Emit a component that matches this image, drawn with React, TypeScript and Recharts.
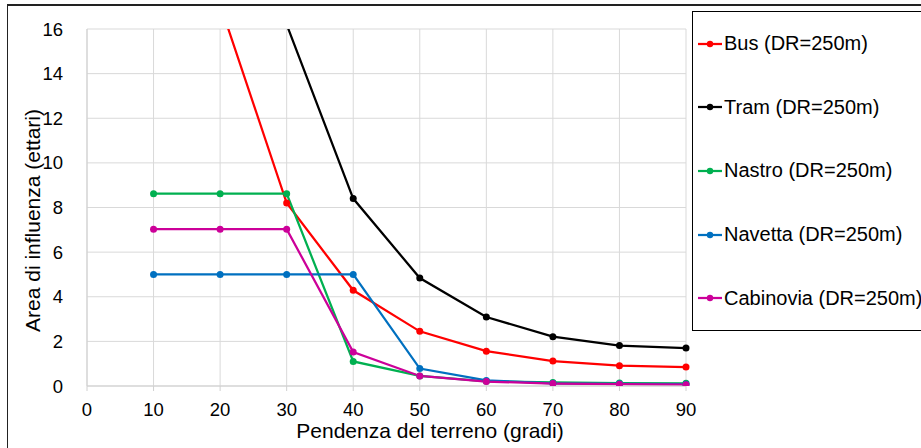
import React from 'react';
import { LineChart, Line, XAxis, YAxis, CartesianGrid, Legend, Label } from 'recharts';

const FONT = '"Liberation Sans", Arial, sans-serif';

const slopes = [10, 20, 30, 40, 50, 60, 70, 80, 90];
const bus = [34, 17.1, 8.2, 4.29, 2.45, 1.56, 1.12, 0.91, 0.85];
const tram = [64, 32, 16.2, 8.4, 4.84, 3.09, 2.21, 1.81, 1.7];
const nastro = [8.62, 8.62, 8.62, 1.1, 0.45, 0.21, 0.16, 0.13, 0.12];
const navetta = [5.0, 5.0, 5.0, 5.0, 0.78, 0.25, 0.12, 0.1, 0.08];
const cabinovia = [7.03, 7.03, 7.03, 1.52, 0.45, 0.2, 0.11, 0.08, 0.06];

const xTicks = [0, 10, 20, 30, 40, 50, 60, 70, 80, 90];
const yTicks = [0, 2, 4, 6, 8, 10, 12, 14, 16];

const series = [
  { key: 'bus', name: 'Bus (DR=250m)', color: '#FF0000', values: bus },
  { key: 'tram', name: 'Tram (DR=250m)', color: '#000000', values: tram },
  { key: 'nastro', name: 'Nastro (DR=250m)', color: '#00B050', values: nastro },
  { key: 'navetta', name: 'Navetta (DR=250m)', color: '#0070C0', values: navetta },
  { key: 'cabinovia', name: 'Cabinovia (DR=250m)', color: '#CC0099', values: cabinovia },
];

const data = slopes.map((s, i) => {
  const row: Record<string, number> = { slope: s };
  series.forEach((ser) => {
    row[ser.key] = ser.values[i];
  });
  return row;
});

const renderLegend = () => (
  <div
    style={{
      boxSizing: 'border-box',
      width: 260,
      height: 320,
      border: '1px solid #000',
      background: '#fff',
      display: 'flex',
      flexDirection: 'column',
      fontFamily: FONT,
    }}
  >
    {series.map((s) => (
      <div key={s.key} style={{ height: 63.75, display: 'flex', alignItems: 'center' }}>
        <svg width={24} height={10} style={{ marginLeft: 5, flex: 'none' }}>
          <line x1={0} y1={5} x2={24} y2={5} stroke={s.color} strokeWidth={2.25} />
          <circle cx={12} cy={5} r={3.2} fill={s.color} />
        </svg>
        <span style={{ marginLeft: 2, fontSize: 20, color: '#000', whiteSpace: 'nowrap' }}>{s.name}</span>
      </div>
    ))}
  </div>
);

const XTitle = (props: any) => {
  const vb = props.viewBox;
  return (
    <text
      x={vb.x + vb.width / 2 + 43.5}
      y={vb.y + vb.height + 21.7}
      textAnchor="middle"
      fontSize={21}
      fontFamily={FONT}
      fill="#000"
    >
      Pendenza del terreno (gradi)
    </text>
  );
};

const YTitle = (props: any) => {
  const vb = props.viewBox;
  const cx = vb.x + 32;
  const cy = vb.y + vb.height / 2 + 13;
  return (
    <text
      x={cx}
      y={cy}
      transform={`rotate(-90 ${cx} ${cy})`}
      textAnchor="middle"
      dominantBaseline="central"
      fontSize={21}
      fontFamily={FONT}
      fill="#000"
    >
      Area di influenza (ettari)
    </text>
  );
};

export default function App() {
  return (
    <div
      style={{
        position: 'absolute',
        left: 0,
        top: 0,
        width: 921,
        height: 448,
        overflow: 'hidden',
        background: '#fff',
        fontFamily: FONT,
      }}
    >
      <LineChart
        width={921}
        height={448}
        data={data}
        margin={{ top: 29, right: 235, bottom: 32, left: 0 }}
        style={{ position: 'absolute', left: 0, top: 0 }}
      >
        <CartesianGrid stroke="#d9d9d9" strokeWidth={1} />
        <XAxis
          dataKey="slope"
          type="number"
          domain={[0, 90]}
          ticks={xTicks}
          interval={0}
          height={30}
          tickSize={5}
          tickMargin={12}
          axisLine={{ stroke: '#d0d0d0' }}
          tickLine={{ stroke: '#d0d0d0' }}
          tick={{ fill: '#000', fontSize: 18.5, fontFamily: FONT }}
        >
          <Label content={XTitle} />
        </XAxis>
        <YAxis
          type="number"
          domain={[0, 16]}
          ticks={yTicks}
          interval={0}
          allowDataOverflow
          width={87}
          tickSize={0}
          tickMargin={24}
          tickLine={false}
          axisLine={{ stroke: '#d0d0d0' }}
          tick={{ fill: '#000', fontSize: 18.5, fontFamily: FONT }}
        >
          <Label content={YTitle} />
        </YAxis>
        <Legend
          layout="horizontal"
          verticalAlign="middle"
          align="center"
          content={renderLegend}
          wrapperStyle={{ position: 'absolute', left: 692, top: 11, width: 260, height: 320, margin: 0 }}
        />
        {series.map((s) => (
          <Line
            key={s.key}
            type="linear"
            dataKey={s.key}
            name={s.name}
            stroke={s.color}
            strokeWidth={2.25}
            dot={{ r: 3.5, fill: s.color, stroke: s.color, strokeWidth: 0 }}
            activeDot={false}
            isAnimationActive={false}
          />
        ))}
      </LineChart>
      <div
        style={{
          position: 'absolute',
          left: 7,
          top: 4,
          width: 1000,
          height: 1000,
          borderLeft: '1.5px solid #222',
          borderTop: '2px solid #222',
          pointerEvents: 'none',
        }}
      />
    </div>
  );
}
